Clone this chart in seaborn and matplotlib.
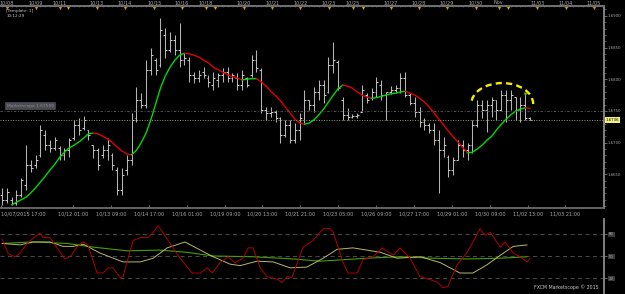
import numpy as np
import pandas as pd
import seaborn as sns
import matplotlib
matplotlib.use("Agg")
import matplotlib.pyplot as plt
from matplotlib.patches import Arc

# 4-hour bars (price)
highs = [1.6629, 1.6629, 1.6614, 1.6625, 1.6644, 1.6696, 1.6673, 1.6681, 1.6728, 1.6720,
         1.6704, 1.6709, 1.6695, 1.6692, 1.6707, 1.6736, 1.6739, 1.6742, 1.6720, 1.6696,
         1.6692, 1.6696, 1.6707, 1.6684, 1.6662, 1.6660, 1.6681, 1.6747, 1.6788, 1.6778,
         1.6830, 1.6849, 1.6834, 1.6897, 1.6881, 1.6875, 1.6870, 1.6889, 1.6841, 1.6835,
         1.6812, 1.6815, 1.6819, 1.6807, 1.6812, 1.6810, 1.6818, 1.6819, 1.6810, 1.6810,
         1.6815, 1.6804, 1.6838, 1.6846, 1.6818, 1.6756, 1.6756, 1.6752, 1.6740, 1.6736,
         1.6736, 1.6731, 1.6747, 1.6783, 1.6767, 1.6788, 1.6799, 1.6799, 1.6835, 1.6859,
         1.6830, 1.6772, 1.6755, 1.6745, 1.6747, 1.6791, 1.6778, 1.6786, 1.6804, 1.6799,
         1.6780, 1.6789, 1.6791, 1.6810, 1.6811, 1.6778, 1.6772, 1.6756, 1.6739, 1.6731,
         1.6731, 1.6720, 1.6709, 1.6681, 1.6677, 1.6704, 1.6704, 1.6700, 1.6736, 1.6767,
         1.6767, 1.6767, 1.6772, 1.6767, 1.6783, 1.6783, 1.6783, 1.6772, 1.6772, 1.6778,
         1.6740]
lows = [1.6602, 1.6605, 1.6602, 1.6602, 1.6614, 1.6625, 1.6654, 1.6660, 1.6677, 1.6688,
        1.6685, 1.6688, 1.6673, 1.6673, 1.6677, 1.6704, 1.6712, 1.6720, 1.6704, 1.6676,
        1.6657, 1.6676, 1.6673, 1.6657, 1.6618, 1.6618, 1.6649, 1.6665, 1.6733, 1.6755,
        1.6755, 1.6807, 1.6807, 1.6819, 1.6834, 1.6843, 1.6838, 1.6819, 1.6823, 1.6796,
        1.6794, 1.6796, 1.6802, 1.6788, 1.6783, 1.6788, 1.6796, 1.6796, 1.6796, 1.6783,
        1.6783, 1.6788, 1.6804, 1.6812, 1.6747, 1.6736, 1.6740, 1.6733, 1.6700, 1.6709,
        1.6700, 1.6700, 1.6704, 1.6731, 1.6752, 1.6748, 1.6767, 1.6763, 1.6778, 1.6810,
        1.6783, 1.6736, 1.6736, 1.6739, 1.6739, 1.6748, 1.6763, 1.6767, 1.6772, 1.6767,
        1.6736, 1.6777, 1.6778, 1.6778, 1.6772, 1.6759, 1.6740, 1.6725, 1.6720, 1.6715,
        1.6696, 1.6621, 1.6677, 1.6646, 1.6649, 1.6673, 1.6677, 1.6673, 1.6684, 1.6725,
        1.6739, 1.6717, 1.6740, 1.6736, 1.6752, 1.6733, 1.6752, 1.6736, 1.6733, 1.6736,
        1.6736]
opens = [1.6618, 1.6610, 1.6610, 1.6605, 1.6618, 1.6633, 1.6665, 1.6665, 1.6681, 1.6712,
         1.6696, 1.6692, 1.6692, 1.6681, 1.6688, 1.6707, 1.6728, 1.6723, 1.6720, 1.6696,
         1.6688, 1.6681, 1.6688, 1.6681, 1.6657, 1.6625, 1.6657, 1.6673, 1.6739, 1.6767,
         1.6759, 1.6815, 1.6830, 1.6823, 1.6870, 1.6846, 1.6862, 1.6846, 1.6830, 1.6830,
         1.6807, 1.6802, 1.6812, 1.6802, 1.6791, 1.6799, 1.6807, 1.6812, 1.6802, 1.6802,
         1.6791, 1.6802, 1.6807, 1.6830, 1.6815, 1.6752, 1.6747, 1.6748, 1.6739, 1.6712,
         1.6728, 1.6704, 1.6720, 1.6736, 1.6767, 1.6759, 1.6780, 1.6791, 1.6780, 1.6823,
         1.6827, 1.6767, 1.6744, 1.6741, 1.6742, 1.6748, 1.6775, 1.6771, 1.6780, 1.6791,
         1.6775, 1.6780, 1.6783, 1.6786, 1.6802, 1.6775, 1.6763, 1.6748, 1.6733, 1.6728,
         1.6720, 1.6704, 1.6688, 1.6677, 1.6657, 1.6673, 1.6696, 1.6688, 1.6696, 1.6728,
         1.6759, 1.6752, 1.6759, 1.6767, 1.6752, 1.6775, 1.6767, 1.6772, 1.6752, 1.6759,
         1.6739]
closes = [1.6610, 1.6622, 1.6605, 1.6618, 1.6641, 1.6665, 1.6660, 1.6673, 1.6720, 1.6696,
          1.6692, 1.6704, 1.6681, 1.6688, 1.6704, 1.6728, 1.6720, 1.6736, 1.6712, 1.6688,
          1.6665, 1.6688, 1.6696, 1.6665, 1.6625, 1.6649, 1.6673, 1.6736, 1.6767, 1.6759,
          1.6815, 1.6838, 1.6815, 1.6878, 1.6846, 1.6862, 1.6846, 1.6830, 1.6834, 1.6807,
          1.6802, 1.6807, 1.6807, 1.6796, 1.6802, 1.6807, 1.6812, 1.6802, 1.6807, 1.6791,
          1.6807, 1.6791, 1.6830, 1.6818, 1.6752, 1.6747, 1.6748, 1.6739, 1.6712, 1.6728,
          1.6704, 1.6720, 1.6739, 1.6767, 1.6759, 1.6780, 1.6791, 1.6775, 1.6823, 1.6830,
          1.6786, 1.6744, 1.6741, 1.6742, 1.6744, 1.6783, 1.6767, 1.6780, 1.6796, 1.6775,
          1.6780, 1.6783, 1.6786, 1.6802, 1.6775, 1.6763, 1.6748, 1.6733, 1.6728, 1.6720,
          1.6704, 1.6688, 1.6696, 1.6657, 1.6673, 1.6696, 1.6688, 1.6696, 1.6728, 1.6759,
          1.6752, 1.6759, 1.6767, 1.6752, 1.6775, 1.6767, 1.6775, 1.6752, 1.6759, 1.6739,
          1.6736]

# smoothed average, starts at bar 2
ma_first_bar = 2
ma_values = [1.6602, 1.6606, 1.6610, 1.6614, 1.6621, 1.6629, 1.6638, 1.6647, 1.6657, 1.6666,
             1.6677, 1.6685, 1.6692, 1.6696, 1.6701, 1.6707, 1.6714, 1.6715, 1.6714, 1.6710,
             1.6706, 1.6700, 1.6693, 1.6687, 1.6682, 1.6681, 1.6688, 1.6700, 1.6715, 1.6736,
             1.6761, 1.6786, 1.6805, 1.6819, 1.6830, 1.6838, 1.6841, 1.6840, 1.6838, 1.6835,
             1.6830, 1.6826, 1.6819, 1.6815, 1.6811, 1.6807, 1.6804, 1.6802, 1.6799, 1.6800,
             1.6801, 1.6801, 1.6796, 1.6789, 1.6781, 1.6774, 1.6766, 1.6756, 1.6747, 1.6737,
             1.6731, 1.6729, 1.6731, 1.6736, 1.6744, 1.6753, 1.6764, 1.6775, 1.6785, 1.6791,
             1.6789, 1.6786, 1.6780, 1.6775, 1.6772, 1.6770, 1.6771, 1.6773, 1.6775, 1.6777,
             1.6778, 1.6780, 1.6781, 1.6778, 1.6775, 1.6770, 1.6764, 1.6756, 1.6747, 1.6737,
             1.6728, 1.6718, 1.6709, 1.6701, 1.6692, 1.6684, 1.6685, 1.6690, 1.6696, 1.6704,
             1.6710, 1.6720, 1.6729, 1.6737, 1.6744, 1.6750, 1.6753, 1.6755, 1.6754]

# lower oscillator panel
red_bar = [0, 1.3, 2.7, 3.8, 5.2, 6.5, 7.9, 8.5, 10, 11, 13.1, 14.2, 15.6, 16.9, 17.9, 19.8,
           21, 22.1, 23.1, 24.6, 25.2, 27.3, 28.8, 30.4, 31.5, 32.5, 33.5, 35, 37.1, 39.6,
           41.3, 42.7, 43.8, 45.4, 47.1, 48.5, 50.2, 51.3, 52.3, 53.8, 55.2, 57.3, 58.3, 59.4,
           60.4, 62.7, 64.8, 66.9, 68.3, 69, 71, 72.1, 74, 75.2, 77.3, 79.2, 80.8, 81.5, 82.9,
           85, 87.1, 89.2, 90.6, 91.9, 92.9, 94.8, 96.9, 98.1, 99.6, 100.6, 101.7, 103.8,
           104.8, 106.5, 107.9, 109.4, 110]
red_val = [73, 53, 49, 54, 67, 74, 81, 75, 75, 65, 46, 49, 62, 69, 65, 27, 27, 34, 34, 21,
           22, 71, 75, 75, 82, 91, 82, 67, 47, 27, 27, 34, 27, 41, 49, 41, 47, 61, 61, 34,
           22, 19, 14, 22, 21, 62, 71, 87, 87, 82, 42, 27, 27, 45, 49, 61, 54, 51, 61, 47,
           22, 18, 15, 7, 9, 38, 55, 69, 87, 78, 82, 62, 69, 54, 49, 42, 47]
yellow_bar = [0, 3.8, 6.5, 10, 12.7, 14.8, 16.9, 20.4, 25.2, 28.8, 31.5, 34.4, 38.1, 41.3,
              44, 47.5, 49.6, 53.1, 56.5, 60, 63.5, 66.9, 69.8, 73.1, 78.8, 82.3, 87.1,
              91.3, 95.4, 98.1, 101, 103.8, 106.5, 109.4]
yellow_val = [67, 65, 69, 69, 63, 63, 66, 54, 42, 42, 47, 61, 69, 58, 49, 39, 37, 43, 42,
              34, 35, 47, 59, 61, 55, 47, 49, 41, 27, 27, 38, 51, 63, 65]
green_bar = [0, 6.5, 13.5, 19, 26, 32.9, 38.5, 44, 52.3, 60.6, 66.3, 76, 82.9, 89.8, 96.9,
             103.8, 109.4]
green_val = [67, 69, 67, 62, 57, 58, 55, 50, 49, 46, 43, 47, 49, 47, 46, 47, 49]
osc_levels = [80, 50, 20]

# time axes
bottom_ticks = [-0.2, 14.8, 22.7, 30.6, 38.5, 46.5, 54.2, 62.1, 70, 77.9, 85.8, 93.75,
                101.7, 109.6, 117.3]
bottom_labels = ["10/07/2015 17:00", "10/12 01:00", "10/13 09:00", "10/14 17:00",
                 "10/16 01:00", "10/19 09:00", "10/20 13:00", "10/21 21:00", "10/23 05:00",
                 "10/26 09:00", "10/27 17:00", "10/29 01:00", "10/30 09:00", "11/02 13:00",
                 "11/03 21:00"]
top_ticks = [1.0, 7.1, 12.1, 19.8, 25.6, 31.7, 37.5, 42.5, 50.4, 56.3, 62.1, 68.1, 73.1,
             81.0, 86.9, 92.7, 98.75, 103.5, 111.5, 117.5, 123.3]
top_labels = ["10/08", "10/09", "10/11", "10/13", "10/14", "10/15", "10/16", "10/18",
              "10/20", "10/21", "10/22", "10/23", "10/25", "10/27", "10/28", "10/29",
              "10/30", "Nov", "11/03", "11/04", "11/05"]
event_bars = top_ticks + [13.75, 44.4, 75.2, 105.4]
price_ticks = [1.6650, 1.6700, 1.6750, 1.6800, 1.6850, 1.6900]
line_level = 1.6750
signal_bar, signal_price = 109, 1.6777

BG = "black"
TXT = "#a8a8a8"
AXC = "#707070"
UP = "#00d800"
DOWN = "#e00000"

sns.set_theme(style="dark", rc={"axes.facecolor": BG, "figure.facecolor": BG,
                                "axes.edgecolor": AXC, "text.color": TXT,
                                "xtick.color": TXT, "ytick.color": TXT})
plt.rcParams["font.family"] = ["DejaVu Sans"]

fig = plt.figure(figsize=(6.25, 2.94), dpi=100)
ax = fig.add_axes([0, 0.2925, 0.9664, 0.6871])
axo = fig.add_axes([0, 0.0034, 0.9664, 0.2517])

bars = np.arange(len(highs))
ax.vlines(bars, lows, highs, color="#b4b4b4", lw=0.75)
ax.hlines(opens, bars - 0.4, bars, color="#d0d0d0", lw=0.7)
ax.hlines(closes, bars, bars + 0.4, color="#d0d0d0", lw=0.7)

# average coloured by slope
ma = np.array(ma_values)
ma_bar = np.arange(ma_first_bar, ma_first_bar + len(ma))
rising = []
state = True
for d in np.diff(ma):
    if d > 0:
        state = True
    elif d < 0:
        state = False
    rising.append(state)
start = 0
for k in range(1, len(rising) + 1):
    if k == len(rising) or rising[k] != rising[start]:
        seg = slice(start, k + 1)
        sns.lineplot(x=ma_bar[seg], y=ma[seg], ax=ax, color=UP if rising[start] else DOWN,
                     lw=1.0, sort=False, estimator=None)
        start = k

ax.axhline(closes[-1], color="#9c9c60", lw=0.7, ls=(0, (1, 1.6)))
ax.axhline(line_level, color="#5a5a5a", lw=0.6, ls=(0, (3, 2, 1, 2)))
ax.text(1.0, line_level + 0.00085, "Marketscope 1.67500", fontsize=3.2, color="#8c8c96",
        va="center", ha="left",
        bbox=dict(boxstyle="square,pad=0.35", fc="#4a4a52", ec="#5a5a62", lw=0.4))

ax.add_patch(Arc((104.2, 1.6761), 12.9, 0.0066, theta1=0, theta2=180, color="#f4f000",
                 lw=1.7, ls=(0, (2.6, 1.8))))
ax.scatter([signal_bar], [signal_price], marker="v", s=7, color="#6cc000", lw=0, zorder=4)

ax.set_xlim(-0.42, 125.4)
ax.set_ylim(1.65970, 1.69155)
ax.spines["left"].set_visible(False)
ax.spines["right"].set_color("#909090")
ax.yaxis.tick_right()
ax.set_yticks(price_ticks)
ax.set_yticklabels([f"{p:.4f}" for p in price_ticks], fontsize=2.8)
ax.set_yticks(np.arange(1.660, 1.6915, 0.001), minor=True)
ax.tick_params(axis="y", which="major", length=2.0, width=0.5, pad=0.8, color="#909090")
ax.tick_params(axis="y", which="minor", length=1.2, width=0.4, color="#909090", right=True)
ax.set_xticks(bottom_ticks)
ax.set_xticklabels(bottom_labels, fontsize=3.6)
ax.get_xticklabels()[0].set_ha("left")
ax.tick_params(axis="x", which="major", direction="in", length=2.5, width=0.5, pad=2.5,
               color="#909090")
ax.set_xlabel("")
ax.set_ylabel("")
ax.text(1.003, closes[-1], f"{closes[-1]:.4f}", transform=ax.get_yaxis_transform(),
        fontsize=2.8, color="black", va="center", ha="left",
        bbox=dict(boxstyle="square,pad=0.25", fc="#f4f080", ec="none"))

axt = ax.twiny()
axt.set_xlim(ax.get_xlim())
axt.set_xticks(top_ticks)
axt.set_xticklabels(top_labels, fontsize=3.6)
axt.set_xticks(np.arange(0, 126, 1), minor=True)
axt.tick_params(axis="x", which="major", direction="in", length=2.0, width=0.5, pad=0.6,
                color="#909090")
axt.tick_params(axis="x", which="minor", direction="in", length=0.8, width=0.4,
                color="#707070")
for s in ["left", "right", "bottom"]:
    axt.spines[s].set_visible(False)
axt.spines["top"].set_color("#707070")
axt.grid(False)
ax.scatter(event_bars, [0.99] * len(event_bars), marker="v", s=5, color="#e0a800",
           transform=ax.get_xaxis_transform(), clip_on=False, zorder=5, lw=0)

# oscillator
for lv in osc_levels:
    axo.axhline(lv, color="#555555", lw=0.6, ls=(0, (5, 4)))
sns.lineplot(x=green_bar, y=green_val, ax=axo, color="#44a000", lw=0.8, sort=False,
             estimator=None)
sns.lineplot(x=yellow_bar, y=yellow_val, ax=axo, color="#b8b866", lw=0.7, sort=False,
             estimator=None)
sns.lineplot(x=red_bar, y=red_val, ax=axo, color="#b00000", lw=0.7, sort=False,
             estimator=None)
axo.set_xlim(ax.get_xlim())
axo.set_ylim(0, 100)
axo.set_xticks([])
for s in ["left", "top", "bottom"]:
    axo.spines[s].set_visible(False)
axo.spines["right"].set_color("#909090")
axo.yaxis.tick_right()
axo.set_yticks(osc_levels)
axo.set_yticklabels([str(v) for v in osc_levels], fontsize=2.8)
for t in axo.get_yticklabels():
    t.set_bbox(dict(boxstyle="square,pad=0.2", fc="#3a3a3a", ec="none"))
axo.tick_params(axis="y", length=2, width=0.5, pad=1.5, color="#909090")
axo.grid(False)
ax.grid(False)

fig.text(0.958, 0.012, "FXCM Marketscope \u00a9 2015", fontsize=3.4, color="#c8c8c8",
         ha="right", va="bottom")
fig.text(0.01, 0.962, "[Template: 1]", fontsize=3.0, color="#c8c8c8", va="center")
fig.text(0.01, 0.944, "10:12:29", fontsize=3.0, color="#c8c8c8", va="center")

fig.savefig("out.png", dpi=100, facecolor=BG)
